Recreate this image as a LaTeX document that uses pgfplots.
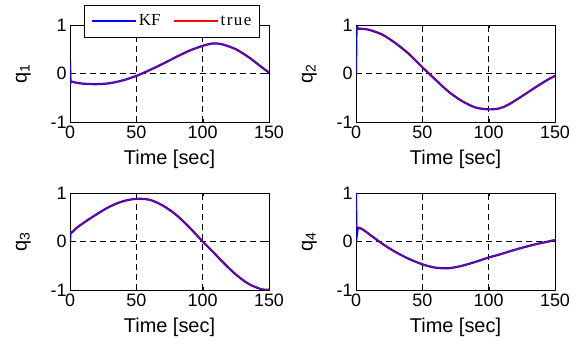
\documentclass[border=0pt]{standalone}
\usepackage{pgfplots}
\pgfplotsset{compat=1.18}
\usepackage{fontspec}
\setmainfont{Liberation Sans}
\newfontfamily\legfont{Liberation Serif}

\pgfplotstableread{
t q1 q2 q3 q4
0 -0.17 0.92 0.17 0.33
5 -0.19 0.92 0.28 0.25
10 -0.21 0.90 0.38 0.15
20 -0.22 0.80 0.56 -0.05
30 -0.20 0.62 0.72 -0.22
40 -0.14 0.40 0.83 -0.36
50 -0.05 0.13 0.88 -0.47
60 0.07 -0.13 0.86 -0.54
70 0.20 -0.38 0.74 -0.55
80 0.34 -0.57 0.55 -0.50
90 0.47 -0.70 0.29 -0.42
100 0.57 -0.74 0.00 -0.33
108 0.62 -0.72 -0.22 -0.27
115 0.60 -0.64 -0.42 -0.21
125 0.50 -0.47 -0.68 -0.13
135 0.33 -0.29 -0.88 -0.06
145 0.12 -0.12 -0.99 0.00
150 0.02 -0.05 -0.99 0.03
}\truedata

\pgfplotstableread{
t q1 q2 q3 q4
0 0.25 0.00 0.00 1.00
0.4 -0.15 0.90 0.17 0.15
1.5 -0.17 0.92 0.19 0.28
5 -0.19 0.92 0.28 0.25
10 -0.21 0.90 0.38 0.15
20 -0.22 0.80 0.56 -0.05
30 -0.20 0.62 0.72 -0.22
40 -0.14 0.40 0.83 -0.36
50 -0.05 0.13 0.88 -0.47
60 0.07 -0.13 0.86 -0.54
70 0.20 -0.38 0.74 -0.55
80 0.34 -0.57 0.55 -0.50
90 0.47 -0.70 0.29 -0.42
100 0.57 -0.74 0.00 -0.33
108 0.62 -0.72 -0.22 -0.27
115 0.60 -0.64 -0.42 -0.21
125 0.50 -0.47 -0.68 -0.13
135 0.33 -0.29 -0.88 -0.06
145 0.12 -0.12 -0.99 0.00
150 0.02 -0.05 -0.99 0.03
}\kfdata

\pgfplotsset{
  quat/.style={
    scale only axis, width=199bp, height=97bp,
    xmin=0, xmax=150, ymin=-1, ymax=1,
    xtick={0,50,100,150}, xticklabels={0,50,100,150},
    ytick={-1,0,1}, yticklabels={-1,0,1},
    grid=major, major grid style={black, line width=0.7pt, dash pattern=on 6bp off 4bp},
    axis line style={black, line width=0.7pt},
    tick align=inside, major tick length=3bp,
    tick style={black},
    ticklabel style={font=\fontsize{18}{18}\selectfont},
    xlabel={Time [sec]},
    every axis x label/.style={at={(axis description cs:0.5,-0.39)},anchor=center,font=\fontsize{20}{20}\selectfont},
    every axis y label/.style={at={(axis description cs:-0.235,0.5)},rotate=90,anchor=center,font=\fontsize{20}{20}\selectfont},
    anchor=south west,
  },
  kf/.style={blue, line width=2.2pt, smooth, tension=0.5, forget plot},
  tr/.style={red, line width=1.1pt, draw opacity=0.6, smooth, tension=0.5, forget plot},
}

\begin{document}
\begin{tikzpicture}
\path[use as bounding box] (0bp,0bp) rectangle (582bp,344bp);
\begin{axis}[quat, at={(70bp,222bp)}, ylabel={q\textsubscript{1}},
  legend columns=2,
  legend style={at={(axis description cs:0.07,1.206)}, anchor=north west,
    font=\legfont\fontsize{17}{17}\selectfont, draw=black,
    inner xsep=6bp, inner ysep=7.5bp,
    /tikz/every even column/.append style={column sep=11bp}}]
\addlegendimage{legend image code/.code={\draw[blue, line width=2.8pt] (0bp,0bp) -- (44bp,0bp);}}
\addlegendentry{KF}
\addlegendimage{legend image code/.code={\draw[red, line width=1.1pt] (0bp,0bp) -- (44bp,0bp);}}
\addlegendentry{t\kern1.5pt r\kern1.5pt u\kern1.5pt e}
\addplot[kf] table[x=t,y=q1] {\kfdata};
\addplot[tr] table[x=t,y=q1] {\truedata};
\end{axis}
\begin{axis}[quat, at={(356bp,222bp)}, ylabel={q\textsubscript{2}}]
\addplot[kf] table[x=t,y=q2] {\kfdata};
\addplot[tr] table[x=t,y=q2] {\truedata};
\end{axis}
\begin{axis}[quat, at={(70bp,54bp)}, ylabel={q\textsubscript{3}}]
\addplot[kf] table[x=t,y=q3] {\kfdata};
\addplot[tr] table[x=t,y=q3] {\truedata};
\end{axis}
\begin{axis}[quat, at={(356bp,54bp)}, ylabel={q\textsubscript{4}}]
\addplot[kf] table[x=t,y=q4] {\kfdata};
\addplot[tr] table[x=t,y=q4] {\truedata};
\end{axis}
\end{tikzpicture}
\end{document}
